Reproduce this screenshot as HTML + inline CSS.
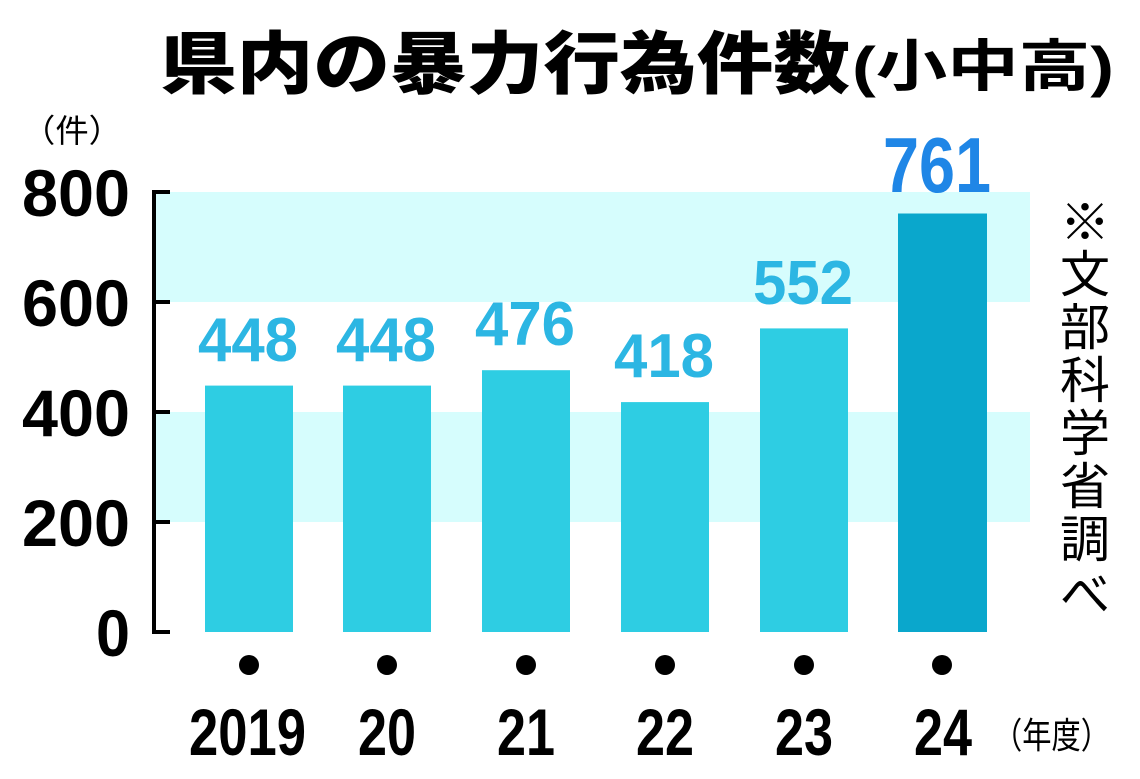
<!DOCTYPE html>
<html><head><meta charset="utf-8"><style>
html,body{margin:0;padding:0;background:#fff;}
svg{display:block}
.n{font-family:"Liberation Sans Narrow","Liberation Sans",sans-serif;font-weight:bold;}
.j{font-family:"Liberation Sans","Noto Sans CJK JP",sans-serif;}
</style></head><body>
<svg width="1140" height="779" viewBox="0 0 1140 779" xmlns="http://www.w3.org/2000/svg">
<rect x="0" y="0" width="1140" height="779" fill="#fff"/>
<text x="160" y="88" class="j" font-size="68" font-weight="900" fill="#000" textLength="690" lengthAdjust="spacingAndGlyphs">県内の暴力行為件数</text>
<text x="852" y="86" class="j" font-size="56" font-weight="700" fill="#000" textLength="262" lengthAdjust="spacingAndGlyphs">(小中高)</text>
<text x="22" y="142" font-family="Noto Sans CJK JP,sans-serif" font-size="32" fill="#000" textLength="100" lengthAdjust="spacingAndGlyphs">（件）</text>
<rect x="155" y="192" width="875" height="110" fill="#d6fdfd"/>
<rect x="155" y="412" width="875" height="110" fill="#d6fdfd"/>
<g stroke="#000" stroke-width="4" fill="none">
<line x1="154" y1="190" x2="154" y2="634"/>
<line x1="152" y1="192" x2="170" y2="192"/>
<line x1="152" y1="302" x2="170" y2="302"/>
<line x1="152" y1="412" x2="170" y2="412"/>
<line x1="152" y1="522" x2="170" y2="522"/>
<line x1="152" y1="632" x2="170" y2="632"/>
</g>
<g class="n" font-size="66" fill="#000" lengthAdjust="spacingAndGlyphs">
<text x="22" y="216" textLength="108" lengthAdjust="spacingAndGlyphs">800</text>
<text x="22" y="326" textLength="108" lengthAdjust="spacingAndGlyphs">600</text>
<text x="22" y="436" textLength="108" lengthAdjust="spacingAndGlyphs">400</text>
<text x="22" y="546" textLength="108" lengthAdjust="spacingAndGlyphs">200</text>
<text x="96" y="656" textLength="34" lengthAdjust="spacingAndGlyphs">0</text>
</g>
<g fill="#2ecde3">
<rect x="205" y="385.6" width="88" height="246.4"/>
<rect x="343" y="385.6" width="88" height="246.4"/>
<rect x="482" y="370.2" width="88" height="261.8"/>
<rect x="621" y="402.1" width="88" height="229.9"/>
<rect x="760" y="328.4" width="88" height="303.6"/>
</g>
<rect x="898" y="213.5" width="89" height="418.5" fill="#0aa7cc"/>
<g class="n" font-size="62" fill="#2cb6e3">
<text x="198" y="361" textLength="100" lengthAdjust="spacingAndGlyphs">448</text>
<text x="336" y="361" textLength="100" lengthAdjust="spacingAndGlyphs">448</text>
<text x="475" y="345" textLength="100" lengthAdjust="spacingAndGlyphs">476</text>
<text x="614" y="377" textLength="100" lengthAdjust="spacingAndGlyphs">418</text>
<text x="753" y="304" textLength="100" lengthAdjust="spacingAndGlyphs">552</text>
</g>
<text x="883" y="192" class="n" font-size="78" fill="#1f86e6" textLength="108" lengthAdjust="spacingAndGlyphs">761</text>
<g fill="#000">
<circle cx="249" cy="665" r="10"/><circle cx="387" cy="665" r="10"/>
<circle cx="526" cy="665" r="10"/><circle cx="665" cy="665" r="10"/>
<circle cx="804" cy="665" r="10"/><circle cx="942" cy="665" r="10"/>
</g>
<g class="n" font-size="66" fill="#000">
<text x="189" y="755" textLength="117" lengthAdjust="spacingAndGlyphs">2019</text>
<text x="358" y="755" textLength="58" lengthAdjust="spacingAndGlyphs">20</text>
<text x="497" y="755" textLength="58" lengthAdjust="spacingAndGlyphs">21</text>
<text x="636" y="755" textLength="58" lengthAdjust="spacingAndGlyphs">22</text>
<text x="775" y="755" textLength="58" lengthAdjust="spacingAndGlyphs">23</text>
<text x="914" y="755" textLength="58" lengthAdjust="spacingAndGlyphs">24</text>
</g>
<text x="993" y="748" font-family="Noto Sans CJK JP,sans-serif" font-size="36" fill="#000" textLength="117" lengthAdjust="spacingAndGlyphs">（年度）</text>
<g class="j" font-size="50" fill="#000" text-anchor="middle">
<text x="1085" y="240">※</text>
<text x="1085" y="292">文</text>
<text x="1085" y="345">部</text>
<text x="1085" y="398">科</text>
<text x="1085" y="451">学</text>
<text x="1085" y="504">省</text>
<text x="1085" y="557">調</text>
<text x="1085" y="612">べ</text>
</g>
</svg>
</body></html>
